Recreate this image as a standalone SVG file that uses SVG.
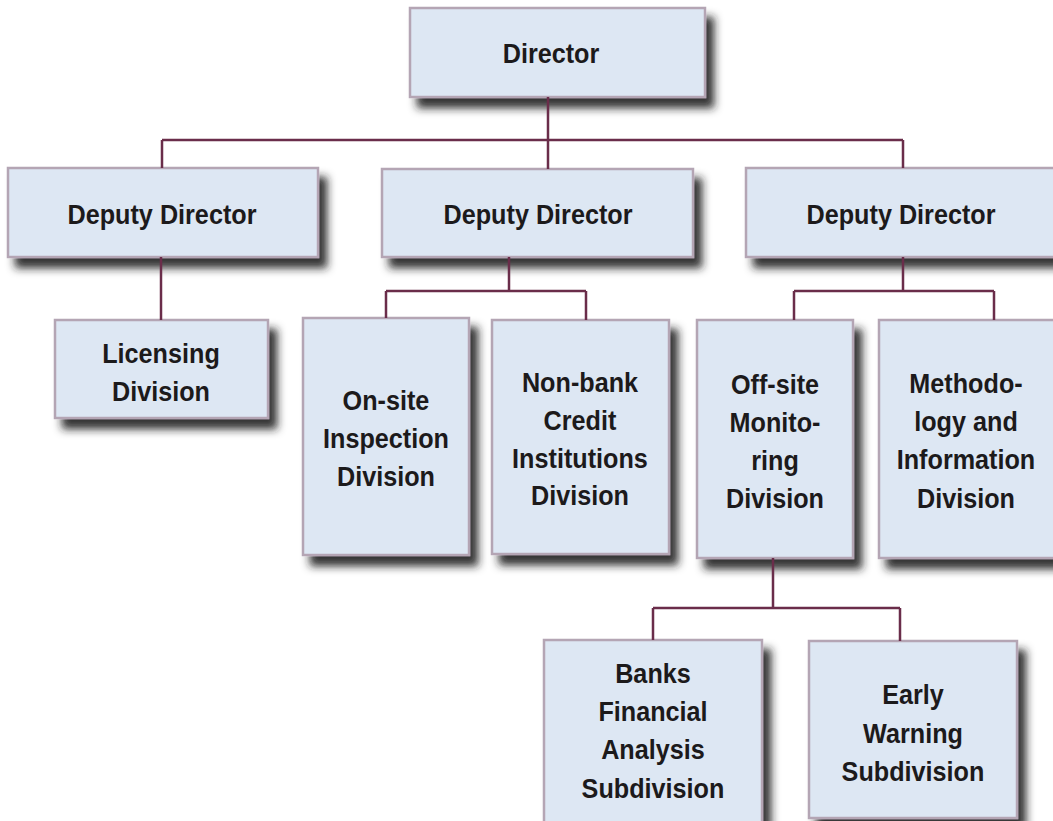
<svg xmlns="http://www.w3.org/2000/svg" width="1053" height="821" viewBox="0 0 1053 821">
<defs>
<filter id="sh" x="-20%" y="-20%" width="150%" height="150%">
<feDropShadow dx="8" dy="10" stdDeviation="4.5" flood-color="#1a1a1a" flood-opacity="0.9"/>
</filter>
</defs>
<style>
.box{fill:#dde7f3;stroke:#b4a5b4;stroke-width:2.5;filter:url(#sh)}
.t{font-family:"Liberation Sans",Arial,sans-serif;font-weight:bold;font-size:28px;fill:#1c1a1b;text-anchor:middle;transform-box:fill-box;transform-origin:center;transform:scaleX(0.9)}
.ln{fill:none;stroke:#6a2d4a;stroke-width:2.5}
</style>
<rect width="1053" height="821" fill="#ffffff"/>
<g id="director"><rect class="box" x="410" y="8" width="295" height="89"/><text class="t" x="551" y="63">Director</text></g>
<g id="deputy1"><rect class="box" x="8" y="168" width="310" height="89"/><text class="t" x="162" y="224">Deputy Director</text></g>
<g id="deputy2"><rect class="box" x="382" y="169" width="311" height="88"/><text class="t" x="538" y="224">Deputy Director</text></g>
<g id="deputy3"><rect class="box" x="746" y="168" width="312" height="89"/><text class="t" x="901" y="224">Deputy Director</text></g>
<g id="licensing"><rect class="box" x="55" y="320" width="213" height="98"/><text class="t" x="161" y="363">Licensing</text><text class="t" x="161" y="401">Division</text></g>
<g id="onsite"><rect class="box" x="303" y="318" width="166" height="237"/><text class="t" x="386" y="410">On-site</text><text class="t" x="386" y="448">Inspection</text><text class="t" x="386" y="486">Division</text></g>
<g id="nonbank"><rect class="box" x="492" y="320" width="177" height="234"/><text class="t" x="580" y="392">Non-bank</text><text class="t" x="580" y="430">Credit</text><text class="t" x="580" y="468">Institutions</text><text class="t" x="580" y="505">Division</text></g>
<g id="offsite"><rect class="box" x="697" y="320" width="156" height="238"/><text class="t" x="775" y="394">Off-site</text><text class="t" x="775" y="432">Monito-</text><text class="t" x="775" y="470">ring</text><text class="t" x="775" y="508">Division</text></g>
<g id="methodology"><rect class="box" x="879" y="320" width="178" height="238"/><text class="t" x="966" y="393">Methodo-</text><text class="t" x="966" y="431">logy and</text><text class="t" x="966" y="469">Information</text><text class="t" x="966" y="508">Division</text></g>
<g id="banks"><rect class="box" x="544" y="640" width="218" height="184"/><text class="t" x="653" y="683">Banks</text><text class="t" x="653" y="721">Financial</text><text class="t" x="653" y="759">Analysis</text><text class="t" x="653" y="798">Subdivision</text></g>
<g id="early"><rect class="box" x="809" y="641" width="208" height="177"/><text class="t" x="913" y="704">Early</text><text class="t" x="913" y="743">Warning</text><text class="t" x="913" y="781">Subdivision</text></g>
<g id="connectors">
<path class="ln" d="M548,97V169M162,140H903M162,140V168M903,140V168"/>
<path class="ln" d="M161,257V320"/>
<path class="ln" d="M509,257V291M386,291H586M386,291V318M586,291V320"/>
<path class="ln" d="M903,257V291M794,291H994M794,291V320M994,291V320"/>
<path class="ln" d="M773,558V608M653,608H900M653,608V640M900,608V641"/>
</g>
</svg>
